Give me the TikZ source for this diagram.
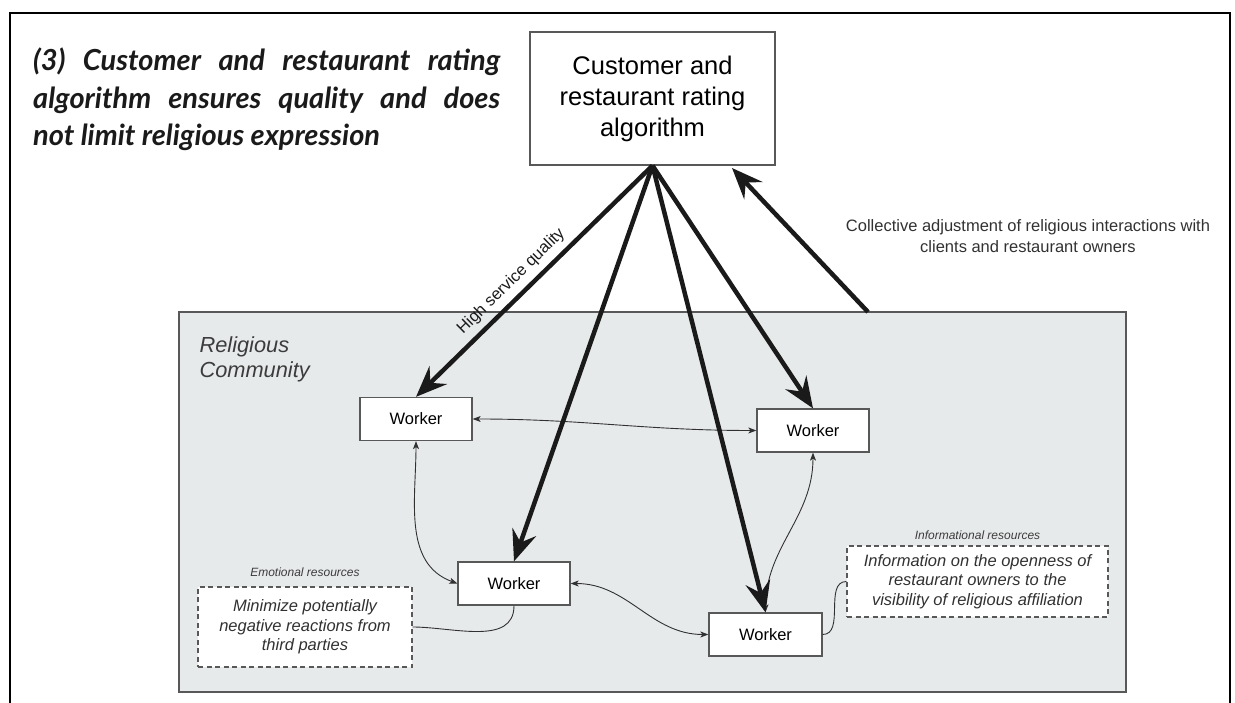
\documentclass[tikz,border=0pt]{standalone}
\usepackage{fontspec}
\setmainfont{Liberation Sans}
\newfontfamily\titlefont{Lato}
\usetikzlibrary{arrows.meta,positioning}
\definecolor{fond}{RGB}{231,234,235}
\definecolor{trait}{RGB}{88,88,88}
\definecolor{encre}{RGB}{26,26,26}

\tikzset{
  worker/.style={draw=trait, line width=1.3pt, fill=white, minimum width=112pt, minimum height=43pt, inner sep=0pt, font=\fontsize{16.5}{19.5}\selectfont},
  resource/.style={draw=trait, dash pattern=on 5pt off 3.5pt, line width=1.1pt, fill=white, inner sep=0pt, align=center, text=encre!90, font=\fontsize{16.5}{19.5}\selectfont\itshape},
  reslabel/.style={inner sep=0pt, text=encre!85, font=\fontsize{12}{14}\selectfont\itshape},
  heavy/.style={draw=encre, line width=4.5pt, -{Stealth[length=31pt,width=25pt,inset=11pt]}},
  light/.style={draw=encre!90, line width=0.9pt, {Stealth[length=8pt,width=6pt,inset=2pt]}-{Stealth[length=8pt,width=6pt,inset=2pt]}},
  link/.style={draw=encre!90, line width=0.9pt},
}

\begin{document}
\begin{tikzpicture}[x=1pt,y=1pt]
			\useasboundingbox (0,0) rectangle (1235,702);

			% cadre
			\draw[line width=2.5pt] (10,-5) -- (10,689) -- (1230,689) -- (1230,-5);

			\node[anchor=north west, text width=467pt, align=justify, inner sep=0pt, text=encre,
				font=\titlefont\bfseries\itshape\fontsize{29}{37.5}\selectfont] (titre) at (33,654)
				{(3) Customer and restaurant rating\linebreak algorithm ensures quality and does\linebreak not limit religious expression};

			\node[draw=trait, line width=1.2pt, minimum width=245pt, minimum height=133pt, inner sep=0pt, align=center,
				font=\fontsize{25.5}{31}\selectfont] (algo) at (652.5,603.5) {Customer and\\restaurant rating\\algorithm};

			\node[align=center, inner sep=0pt, text=encre!90, font=\fontsize{16.5}{21}\selectfont] (collectif) at (1028,465.5)
				{Collective adjustment of religious interactions with\\clients and restaurant owners};

			% communaute
			\node[draw=trait, line width=1.3pt, fill=fond, minimum width=947pt, minimum height=380pt, inner sep=0pt] (communaute) at (652.5,200) {};
			\node[anchor=north west, align=left, inner sep=0pt, text=encre!85, font=\fontsize{21.8}{25}\selectfont\itshape] (rc)
				at ([shift={(21,-25)}]communaute.north west) {Religious\\Community};

			\node[worker] (w1) at (416,283) {Worker};
			\node[worker] (w2) at (813,271.5) {Worker};
			\node[worker] (w3) at (514,118.5) {Worker};
			\node[worker, minimum width=113pt] (w4) at (765.5,67.5) {Worker};

			\node[resource, minimum width=214pt, minimum height=80pt] (emo) at (305,75) {Minimize potentially\\negative reactions from\\third parties};
			\node[reslabel, above=10pt of emo] (emolab) {Emotional resources};
			\node[resource, minimum width=261pt, minimum height=71pt] (info) at (977.5,120.5) {Information on the openness of\\restaurant owners to the\\visibility of religious affiliation};
			\node[reslabel, above=6pt of info] (infolab) {Informational resources};

			% liens
			\draw[light] (w1.east) to[out=0,in=180] (w2.west);
			\draw[light] (w1.south) to[out=-90,in=160] (w3.west);
			\draw[light] (w3.east) to[out=0,in=180] (w4.west);
			\draw[light] (w2.south) to[out=-90,in=90] (w4.north);
			\draw[link] (w3.south) to[out=-90,in=0] (emo.east);
			\draw[link] (w4.east) to[out=0,in=180] (info.west);

			% fleches
			\draw[heavy] (algo.south) -- (w1.north) node[pos=0.55, sloped, above=6pt, inner sep=0pt, text=encre, font=\fontsize{16.5}{19}\selectfont] (hsq) {High service quality};
			\foreach \w in {w2,w3,w4} {
				\draw[heavy] (algo.south) -- (\w.north);
			}
			\coordinate (retour) at (868,390);
			\coordinate (cible) at (732,534);
			\draw[heavy] (retour) -- (cible);
		\end{tikzpicture}
\end{document}
